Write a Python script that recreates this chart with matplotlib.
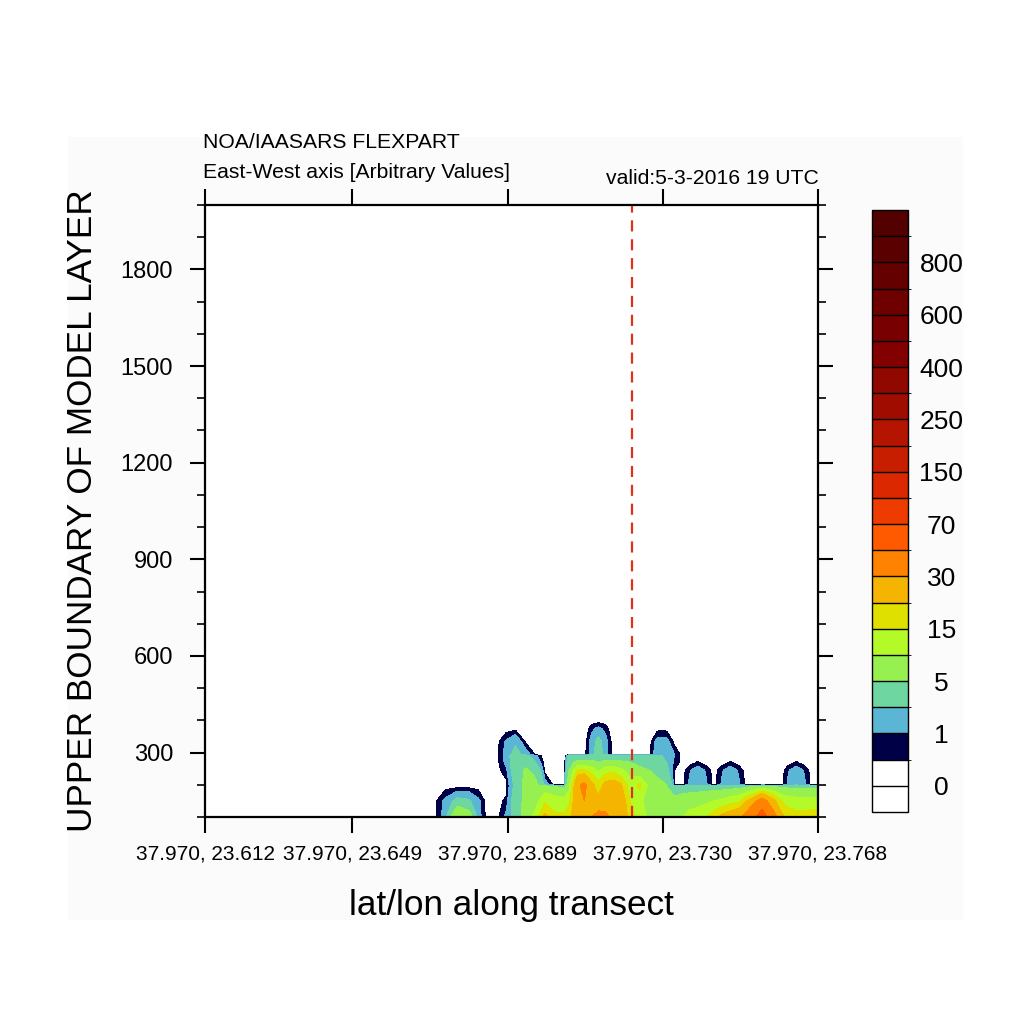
import numpy as np
import matplotlib
matplotlib.use('Agg')
import matplotlib.pyplot as plt
from matplotlib.colors import ListedColormap, BoundaryNorm
from matplotlib.patches import Rectangle
from matplotlib.ticker import MultipleLocator

plt.rcParams['font.family'] = ['Liberation Sans', 'DejaVu Sans']

# ---------------- data ----------------
heights = [100, 150, 195, 200, 245, 270, 290, 295, 335, 375, 400]   # layer tops (m)

transect_idx = [0.0, 29.5, 31.0, 32.5, 34.0, 35.2, 36.3, 37.6, 38.8, 40.0,
                41.3, 42.6, 43.8, 45.0, 46.3, 46.9, 48.0, 48.9, 49.8, 50.7,
                51.6, 52.6, 53.6, 54.8, 56.0, 57.3, 58.3, 59.5, 60.5, 61.5,
                62.4, 63.5, 64.6, 65.6, 66.6, 67.7, 68.8, 69.8, 71.8, 73.3,
                74.3, 75.1, 76.2, 77.3, 78.2, 79.0]

# concentration profile for every transect point (values at the heights above)
profiles = [
    [0, 0, 0, 0, 0, 0, 0, 0, 0, 0, 0],
    [0.3, 0.3, 0.2, 0, 0, 0, 0, 0, 0, 0, 0],
    [1.4, 1.2, 0.3, 0, 0, 0, 0, 0, 0, 0, 0],
    [10, 2.5, 0.3, 0, 0, 0, 0, 0, 0, 0, 0],
    [7, 2.2, 0.3, 0, 0, 0, 0, 0, 0, 0, 0],
    [1.4, 1.2, 0.3, 0, 0, 0, 0, 0, 0, 0, 0],
    [0.3, 0.3, 0.2, 0, 0, 0, 0, 0, 0, 0, 0],
    [0.3, 0.3, 0.3, 0.3, 0.3, 0.3, 0.3, 0.3, 0.3, 0, 0],
    [1.2, 0.6, 0.3, 0.3, 0.8, 1.2, 1.3, 1.3, 1.1, 0.2, 0],
    [2.5, 3, 2.5, 2.5, 3, 3, 3, 2.5, 1.8, 0.3, 0],
    [7, 6, 6, 6, 5.5, 4, 2.5, 1.5, 0.4, 0, 0],
    [12, 8, 6, 6, 4, 2, 1.2, 0.4, 0.2, 0, 0],
    [22, 14, 7, 1.5, 0.3, 0.2, 0, 0, 0, 0, 0],
    [16, 13, 5, 0.3, 0.2, 0, 0, 0, 0, 0, 0],
    [16, 12, 4, 0.3, 0.2, 0, 0, 0, 0, 0, 0],
    [18, 14, 8, 8, 5, 3.5, 2.5, 0.3, 0, 0, 0],
    [26, 26, 28, 28, 16, 6, 3, 0.3, 0, 0, 0],
    [28, 30, 33, 33, 16, 6, 3, 0.3, 0.2, 0, 0],
    [30, 26, 22, 22, 13, 6, 3, 1.3, 1.3, 0.8, 0.2],
    [35, 22, 17, 17, 9, 5, 3.5, 3, 2.5, 1.2, 0.2],
    [32, 26, 22, 22, 13, 6, 3, 1.3, 1.3, 0.8, 0.2],
    [28, 27, 23, 23, 14, 6, 3, 0.3, 0.2, 0, 0],
    [25, 25, 21, 21, 11, 5.5, 3, 0.3, 0, 0, 0],
    [18, 15, 12, 12, 8, 5, 3, 0.3, 0, 0, 0],
    [12, 11, 16, 16, 6, 4, 3, 0.3, 0, 0, 0],
    [9, 8, 8, 8, 5, 3.5, 2.5, 0.4, 0.3, 0, 0],
    [8, 7, 6, 6, 4, 3, 2.2, 1.6, 1.3, 0.3, 0],
    [7, 6, 5, 5, 2.5, 2, 1.8, 1.6, 1.3, 0.3, 0],
    [9, 6, 3, 0.3, 0.5, 0.8, 1.0, 1.0, 0.3, 0, 0],
    [10, 7, 3, 0.3, 0.2, 0.3, 0.3, 0.3, 0.2, 0, 0],
    [12, 7.5, 3, 1.1, 0.9, 0.2, 0, 0, 0, 0, 0],
    [13, 8, 3, 1.8, 1.5, 0.55, 0.2, 0, 0, 0, 0],
    [15, 9, 3, 1.1, 0.9, 0.2, 0, 0, 0, 0, 0],
    [18, 10, 3, 0.3, 0.2, 0, 0, 0, 0, 0, 0],
    [22, 11, 3, 1.1, 0.9, 0.2, 0, 0, 0, 0, 0],
    [24, 13, 3, 1.8, 1.5, 0.55, 0.2, 0, 0, 0, 0],
    [27, 14, 3.5, 1.1, 0.9, 0.2, 0, 0, 0, 0, 0],
    [35, 20, 4, 0.3, 0.2, 0, 0, 0, 0, 0, 0],
    [62, 36, 6, 0.3, 0, 0, 0, 0, 0, 0, 0],
    [35, 22, 5, 0.3, 0, 0, 0, 0, 0, 0, 0],
    [22, 15, 4, 0.3, 0.2, 0, 0, 0, 0, 0, 0],
    [18, 13, 4, 1.1, 0.9, 0.2, 0, 0, 0, 0, 0],
    [17, 12, 4, 1.8, 1.5, 0.55, 0.2, 0, 0, 0, 0],
    [17, 12, 4, 1.1, 0.9, 0.2, 0, 0, 0, 0, 0],
    [18, 12, 4, 0.3, 0.2, 0, 0, 0, 0, 0, 0],
    [18, 11, 4, 0.3, 0, 0, 0, 0, 0, 0, 0],
]

levels = [0, 0.5, 1, 2, 5, 10, 15, 20, 30, 50, 70, 100, 150, 200, 250,
          300, 400, 500, 600, 700, 800, 900]
level_colors = ['#ffffff', '#000046', '#5ab6d4', '#6ed6a0', '#96f050',
                '#b4fa28', '#e0e000', '#f5b400', '#ff8200', '#ff5a00',
                '#ee3c00', '#dc2800', '#c81e00', '#b41400', '#a00c00',
                '#900800', '#820000', '#780000', '#6e0000', '#640000',
                '#5a0000']
under_color = '#ffffff'
over_color = '#520000'
cbar_labels = [0, 1, 5, 15, 30, 70, 150, 250, 400, 600, 800]

xtick_idx = [0, 19, 39, 59, 79]
xtick_labels = ['37.970, 23.612', '37.970, 23.649', '37.970, 23.689',
                '37.970, 23.730', '37.970, 23.768']
ytick_major = [300, 600, 900, 1200, 1500, 1800]
marker_idx = 55

# ---------------- figure ----------------
W = 1024.0
fig = plt.figure(figsize=(10.24, 10.24), dpi=100)
fig.patch.set_facecolor('white')
fig.patches.append(Rectangle((68 / W, 1 - 920 / W), (963 - 68) / W, (920 - 137) / W,
                             transform=fig.transFigure, facecolor='#fbfbfb',
                             edgecolor='none', zorder=-10))

ax = fig.add_axes([205 / W, 1 - 817 / W, 613 / W, 612 / W])
ax.set_facecolor('white')

cmap = ListedColormap(level_colors)
cmap.set_under(under_color)
cmap.set_over(over_color)
norm = BoundaryNorm(levels, cmap.N)

Z = np.array(profiles, dtype=float).T
cf = ax.contourf(transect_idx, heights, Z, levels=levels, cmap=cmap, norm=norm,
                 extend='both', antialiased=False)

ax.axvline(marker_idx, color='#e0301e', lw=1.6, linestyle=(0, (5, 3.5)))

ax.set_xlim(0, 79)
ax.set_ylim(100, 2000)
ax.set_xticks(xtick_idx)
ax.set_xticklabels(xtick_labels, fontsize=15)
ax.set_yticks(ytick_major)
ax.set_yticklabels([str(v) for v in ytick_major], fontsize=17)
ax.yaxis.set_minor_locator(MultipleLocator(100))
ax.tick_params(axis='x', which='major', direction='out', length=11.5, width=1.5,
               top=True, bottom=True, pad=8.5)
ax.tick_params(axis='y', which='major', direction='out', length=11, width=1.5,
               left=True, right=True, pad=12)
ax.tick_params(axis='y', which='minor', direction='out', length=5.5, width=1.2,
               left=True, right=True)
for s in ax.spines.values():
    s.set_linewidth(1.6)

fig.text(203 / W, 1 - 142 / W, 'NOA/IAASARS FLEXPART', fontsize=15.2,
         ha='left', va='center')
fig.text(203 / W, 1 - 173 / W, 'East-West axis [Arbitrary Values]', fontsize=15.2,
         ha='left', va='center')
fig.text(819 / W, 1 - 178 / W, 'valid:5-3-2016 19 UTC', fontsize=15.2,
         ha='right', va='center')
fig.text(83 / W, 1 - 511 / W, 'UPPER BOUNDARY OF MODEL LAYER', fontsize=25.3,
         rotation=90, ha='center', va='center')
fig.text(511 / W, 1 - 905 / W, 'lat/lon along transect', fontsize=25.3,
         ha='center', va='center')

# ---------------- colorbar ----------------
cax = fig.add_axes([872 / W, 1 - 812 / W, 36 / W, 602 / W])
cb = fig.colorbar(cf, cax=cax, extendfrac=1 / 21, extendrect=True,
                  drawedges=True, ticks=cbar_labels)
cb.set_ticklabels([str(v) for v in cbar_labels])
cb.ax.tick_params(length=0, pad=24, labelsize=19)
for t in cb.ax.get_yticklabels():
    t.set_ha('center')
cb.outline.set_linewidth(1.0)
cb.dividers.set_linewidth(1.0)
cb.dividers.set_color('black')

fig.savefig('out.png', dpi=100)
